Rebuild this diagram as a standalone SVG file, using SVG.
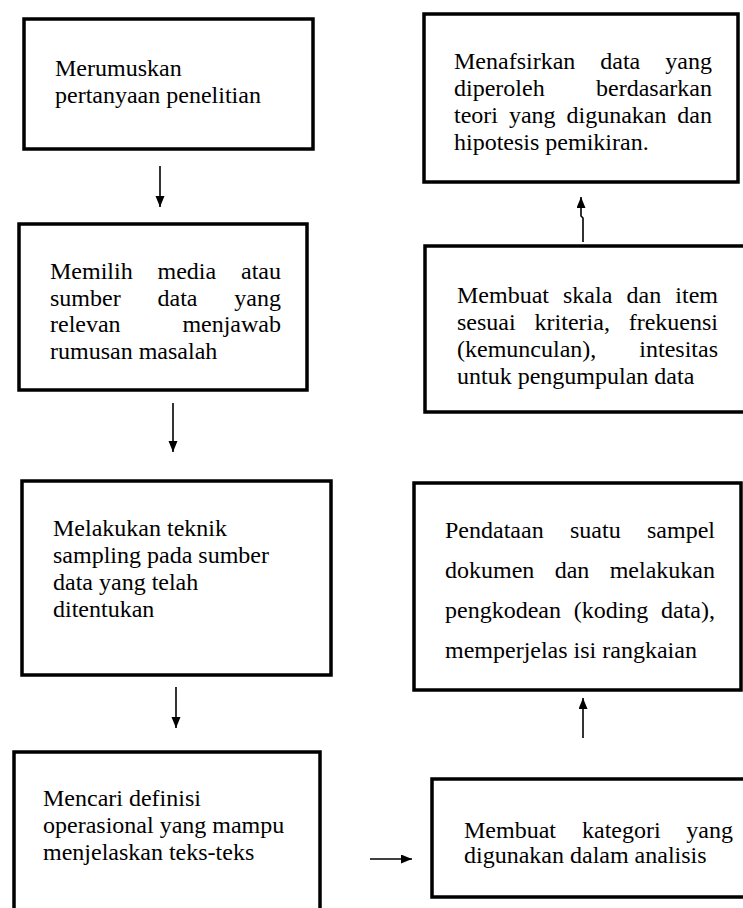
<svg xmlns="http://www.w3.org/2000/svg" width="743" height="908" viewBox="0 0 743 908">
<style>
text{font-family:Liberation Serif,Tinos,Times New Roman,Times,DejaVu Serif,Noto Serif,serif;font-size:24px;fill:#000}
.box{fill:#fff;stroke:#000;stroke-width:3.5}
.e{text-anchor:end}
.c{fill:none;stroke:#000;stroke-width:1.6}
</style>
<defs>
<marker id="ah" markerUnits="userSpaceOnUse" markerWidth="12" markerHeight="10" refX="11" refY="4.5" orient="auto">
<path d="M0,0 L11,4.5 L0,9 z" fill="#000"/>
</marker>
</defs>
<rect width="743" height="908" fill="#fff"/>
<g id="n1">
<rect class="box" x="24" y="19" width="289" height="130"/>
<text x="55" y="76">Merumuskan</text>
<text x="55" y="103">pertanyaan penelitian</text>
</g>

<g id="n2">
<rect class="box" x="19" y="224" width="288" height="166"/>
<text x="50" y="279">Memilih</text><text x="157.5" y="279">media</text><text class="e" x="281" y="279">atau</text>
<text x="50" y="306">sumber</text><text x="157.5" y="306">data</text><text class="e" x="281" y="306">yang</text>
<text x="50" y="332">relevan</text><text class="e" x="281" y="332">menjawab</text>
<text x="50" y="359">rumusan masalah</text>
</g>

<g id="n3">
<rect class="box" x="22" y="481" width="309" height="194"/>
<text x="53" y="536">Melakukan teknik</text>
<text x="53" y="563">sampling pada sumber</text>
<text x="53" y="590">data yang telah</text>
<text x="53" y="617">ditentukan</text>
</g>

<g id="n4">
<rect class="box" x="14" y="752" width="306" height="200"/>
<text x="43" y="806">Mencari definisi</text>
<text x="43" y="833">operasional yang mampu</text>
<text x="43" y="860">menjelaskan teks-teks</text>
</g>

<g id="n5">
<rect class="box" x="432" y="779" width="320" height="118"/>
<text x="464" y="838">Membuat</text><text x="582" y="838">kategori</text><text class="e" x="733" y="838">yang</text>
<text x="464" y="863">digunakan dalam analisis</text>
</g>

<g id="n6">
<rect class="box" x="414" y="483" width="327" height="207"/>
<text x="445" y="538">Pendataan</text><text x="570" y="538">suatu</text><text class="e" x="715" y="538">sampel</text>
<text x="445" y="578">dokumen</text><text x="554.7" y="578">dan</text><text class="e" x="715" y="578">melakukan</text>
<text x="445" y="618">pengkodean</text><text x="573.7" y="618">(koding</text><text class="e" x="715" y="618">data),</text>
<text x="445" y="658">memperjelas isi rangkaian</text>
</g>

<g id="n7">
<rect class="box" x="425" y="246" width="325" height="166"/>
<text x="457" y="303">Membuat</text><text x="563" y="303">skala</text><text x="626.5" y="303">dan</text><text class="e" x="718" y="303">item</text>
<text x="457" y="330">sesuai</text><text x="534.6" y="330">kriteria,</text><text class="e" x="718" y="330">frekuensi</text>
<text x="457" y="357">(kemunculan),</text><text class="e" x="718" y="357">intesitas</text>
<text x="457" y="384">untuk pengumpulan data</text>
</g>

<g id="n8">
<rect class="box" x="424" y="14" width="314" height="168"/>
<text x="454" y="69">Menafsirkan</text><text x="600.3" y="69">data</text><text class="e" x="712" y="69">yang</text>
<text x="454" y="96">diperoleh</text><text class="e" x="712" y="96">berdasarkan</text>
<text x="454" y="123">teori</text><text x="508.9" y="123">yang</text><text x="566.5" y="123">digunakan</text><text class="e" x="712" y="123">dan</text>
<text x="454" y="150">hipotesis pemikiran.</text>
</g>

<g id="connectors">
<path class="c" d="M160,166 L160,207" marker-end="url(#ah)"/>
<path class="c" d="M173,403 L173,452" marker-end="url(#ah)"/>
<path class="c" d="M176,687 L176,728" marker-end="url(#ah)"/>
<path class="c" d="M370,859 L412,859" marker-end="url(#ah)"/>
<path class="c" d="M583,738 L583,698" marker-end="url(#ah)"/>
<path class="c" d="M583,242 L583,218 L581,216 L581,197" marker-end="url(#ah)"/>
</g>
</svg>
